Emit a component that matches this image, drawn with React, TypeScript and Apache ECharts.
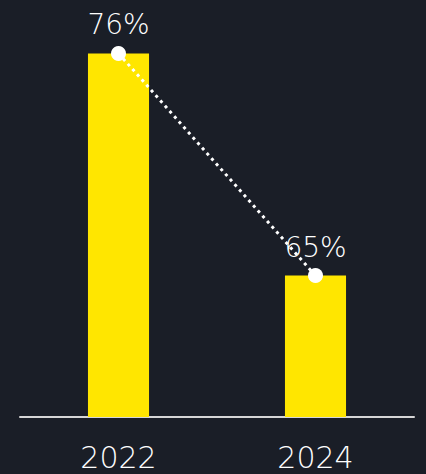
import React, { useEffect, useRef } from "react";
import * as echarts from "echarts";

const categories = ["2022", "2024"];
const values = [76, 65];

export default function App() {
  const ref = useRef<HTMLDivElement>(null);
  useEffect(() => {
    if (!ref.current) return;
    const chart = echarts.init(ref.current, null, { renderer: "svg" });
    chart.setOption({
      animation: false,
      backgroundColor: "#1a1e27",
      grid: { left: 20, right: 12, top: 13, bottom: 57, containLabel: false },
      xAxis: {
        type: "category",
        data: categories,
        axisTick: { show: false },
        axisLine: { lineStyle: { color: "#d6d6d6", width: 2 } },
        axisLabel: {
          color: "#ffffff",
          fontSize: 30,
          fontFamily: "DejaVu Sans",
          fontWeight: 300,
          margin: 25,
        },
      },
      yAxis: {
        type: "value",
        min: 58,
        max: 78,
        show: false,
        splitLine: { show: false },
      },
      series: [
        {
          type: "bar",
          data: values,
          barWidth: "31%",
          itemStyle: { color: "#ffe600" },
          z: 1,
        },
        {
          type: "line",
          data: values,
          symbol: "circle",
          symbolSize: 15,
          itemStyle: { color: "#ffffff" },
          lineStyle: { color: "#ffffff", width: 3, type: [3, 4] },
          label: {
            show: true,
            position: "top",
            distance: 7,
            formatter: "{c}%",
            color: "#ffffff",
            fontSize: 28,
            fontFamily: "DejaVu Sans",
            fontWeight: 300,
          },
          z: 3,
        },
      ],
    });
    return () => chart.dispose();
  }, []);
  return (
    <div
      ref={ref}
      style={{ position: "absolute", left: 0, top: 0, width: 426, height: 474 }}
    />
  );
}
